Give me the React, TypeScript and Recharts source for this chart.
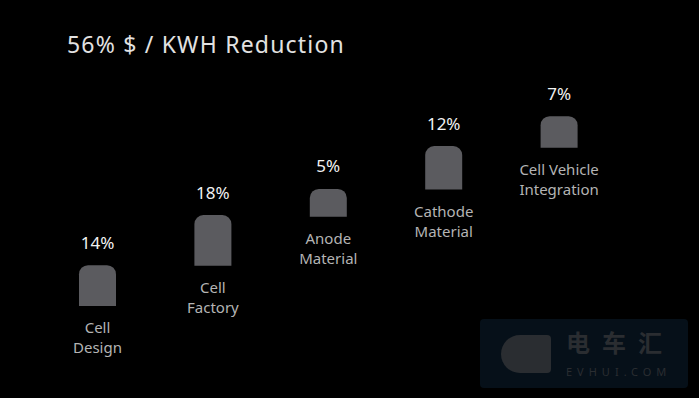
import React from "react";
import { BarChart, Bar, XAxis, YAxis, LabelList } from "recharts";

const categories = ["Cell Design", "Cell Factory", "Anode Material", "Cathode Material", "Cell Vehicle Integration"];
const categoryLines = [["Cell", "Design"], ["Cell", "Factory"], ["Anode", "Material"], ["Cathode", "Material"], ["Cell Vehicle", "Integration"]];
const percentLabels = ["14%", "18%", "5%", "12%", "7%"];
const rangeLow = [0, 11.7, 26, 33.9, 46.1];
const rangeHigh = [11.9, 26.5, 34.1, 46.6, 55.3];
const title = "56% $ / KWH Reduction";

const data = categories.map((c, i) => ({ name: c, range: [rangeLow[i], rangeHigh[i]], pct: percentLabels[i] }));

const FONT = "'Noto Sans', 'DejaVu Sans', sans-serif";

const PctLabel = (props: any) => {
  const { x, y, width, index } = props;
  return (
    <text x={x + width / 2} y={y - 23} textAnchor="middle" dominantBaseline="central" fill="#f2f2f2" fontSize={17} fontFamily={FONT}>
      {percentLabels[index]}
    </text>
  );
};

const CatLabel = (props: any) => {
  const { x, y, width, height, index } = props;
  const lines = categoryLines[index];
  return (
    <g>
      {lines.map((l: string, k: number) => (
        <text key={k} x={x + width / 2} y={y + height + 21 + k * 20} textAnchor="middle" dominantBaseline="central" fill="#b4b4b4" fontSize={15} fontFamily={FONT}>
          {l}
        </text>
      ))}
    </g>
  );
};

export default function App() {
  return (
    <div style={{ position: "absolute", left: 0, top: 0, width: 699, height: 398, background: "#000", overflow: "hidden" }}>
      <div style={{ position: "absolute", left: 67, top: 29, color: "#e2e2e2", fontFamily: FONT, fontSize: 23, letterSpacing: 1.2, lineHeight: "30px", whiteSpace: "nowrap" }}>
        {title}
      </div>
      <div style={{ position: "absolute", left: 480, top: 319, width: 208, height: 69, background: "#061019", borderRadius: 4 }}>
        <div style={{ position: "absolute", left: 86, top: 11, color: "#2a2d31", fontFamily: "'Noto Sans CJK SC', sans-serif", fontSize: 24, fontWeight: 700, lineHeight: "24px", letterSpacing: 12, whiteSpace: "nowrap" }}>电车汇</div>
        <div style={{ position: "absolute", left: 86, top: 47, color: "#2a2d31", fontFamily: FONT, fontSize: 11, letterSpacing: 5, lineHeight: "11px", whiteSpace: "nowrap" }}>EVHUI.COM</div>
        <div style={{ position: "absolute", left: 21, top: 16, width: 50, height: 38, borderRadius: "19px 4px 4px 19px", background: "#2a2d31" }} />
      </div>
      <div style={{ position: "absolute", left: 0, top: 0 }}>
        <BarChart width={699} height={398} data={data} margin={{ top: 100, right: 82, bottom: 92, left: 40 }} barCategoryGap={0}>
          <XAxis dataKey="name" hide />
          <YAxis hide domain={[0, 60]} />
          <Bar dataKey="range" fill="#5b5b5f" barSize={37} radius={[9, 9, 0, 0]} isAnimationActive={false}>
            <LabelList dataKey="pct" content={<PctLabel />} />
            <LabelList dataKey="name" content={<CatLabel />} />
          </Bar>
        </BarChart>
      </div>
    </div>
  );
}
